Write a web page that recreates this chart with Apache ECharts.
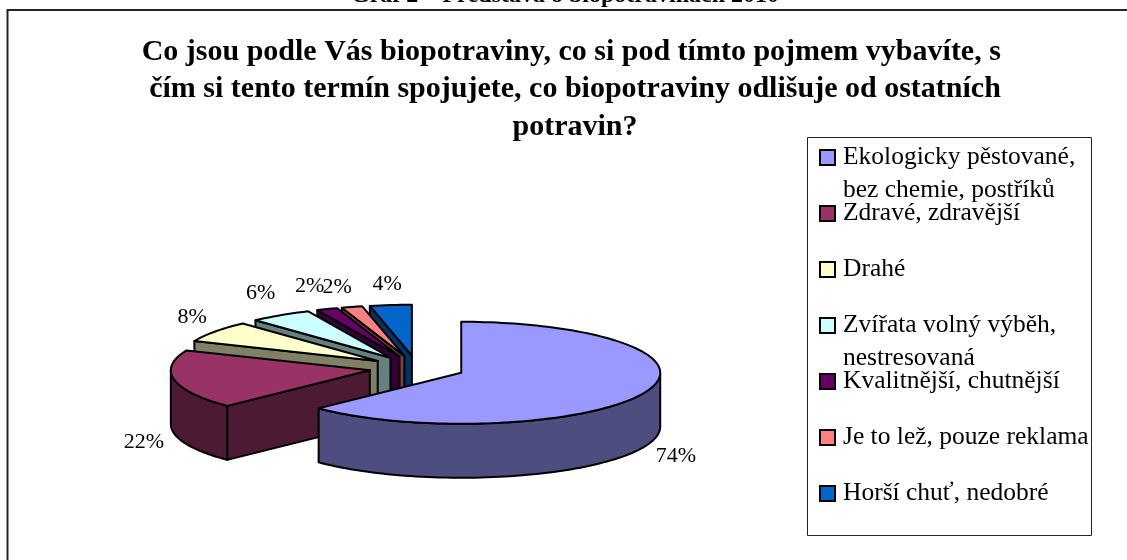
<!DOCTYPE html>
<html>
<head>
<meta charset="utf-8">
<style>
  html, body { margin: 0; padding: 0; background: #fff; }
  #chart { width: 1127px; height: 560px; }
</style>
<script src="https://cdn.jsdelivr.net/npm/echarts@6/dist/echarts.min.js"></script>
</head>
<body>
<div id="chart"></div>
<script>
const categories = [
  'Ekologicky pěstované,\nbez chemie, postříků',
  'Zdravé, zdravější',
  'Drahé',
  'Zvířata volný výběh,\nnestresovaná',
  'Kvalitnější, chutnější',
  'Je to lež, pouze reklama',
  'Horší chuť, nedobré'
];
const values = [74, 22, 8, 6, 2, 2, 4];
const colors = ['#9999FF', '#993366', '#FFFFCC', '#CCFFFF', '#660066', '#FF8080', '#0066CC'];

const titleText = 'Co jsou podle Vás biopotraviny, co si pod tímto pojmem vybavíte, s \nčím si tento termín spojujete, co biopotraviny odlišuje od ostatních\npotravin?';
const captionText = 'Graf 2 – Představa o biopotravinách 2010';

// pie geometry, the tilted 3D look is projected by hand
const cx = 417, cy = 368, rx = 199, ry = 51, depth = 54, explode = 48;
const serif = '"Liberation Serif", "Times New Roman", serif';
// small label shifts so the percents sit where Excel put them
const labelNudge = [[0, 2], [3, 0], [5, -1], [-1, -2], [-5, 0], [-6, 3], [0, 3]];

const total = values.reduce((a, b) => a + b, 0);
const angles = [];
let acc = 0;
values.forEach(v => {
  const start = acc / total * 2 * Math.PI;
  acc += v;
  angles.push([start, acc / total * 2 * Math.PI]);
});

function darken(hex) {
  const n = parseInt(hex.slice(1), 16);
  const c = [n >> 16, (n >> 8) & 255, n & 255].map(x => Math.round(x / 2));
  return `rgb(${c[0]},${c[1]},${c[2]})`;
}

// angle is clockwise from 12 o'clock
function rim(ax, ay, a) {
  return [ax + rx * Math.sin(a), ay - ry * Math.cos(a)];
}

function arcPoints(ax, ay, a0, a1, dy) {
  const pts = [];
  const steps = Math.max(2, Math.ceil((a1 - a0) / 0.03));
  for (let i = 0; i <= steps; i++) {
    const p = rim(ax, ay, a0 + (a1 - a0) * i / steps);
    pts.push([p[0], p[1] + dy]);
  }
  return pts;
}

function renderSlice(idx) {
  return function () {
    const a0 = angles[idx][0], a1 = angles[idx][1];
    const mid = (a0 + a1) / 2;
    const ax = cx + explode * Math.sin(mid);
    const ay = cy - explode * (ry / rx) * Math.cos(mid);
    const line = { stroke: '#000', lineWidth: 2, lineJoin: 'round' };
    const side = Object.assign({ fill: darken(colors[idx]) }, line);
    const children = [];

    // radial wall on the start edge, faces the viewer on the left half
    if (a0 >= Math.PI) {
      const p = rim(ax, ay, a0);
      children.push({
        type: 'polygon',
        shape: { points: [[ax, ay], p, [p[0], p[1] + depth], [ax, ay + depth]] },
        style: side
      });
    }
    // outer wall, front half of the rim only
    const w0 = Math.max(a0, Math.PI / 2), w1 = Math.min(a1, 3 * Math.PI / 2);
    if (w1 > w0) {
      const topArc = arcPoints(ax, ay, w0, w1, 0);
      const botArc = arcPoints(ax, ay, w0, w1, depth).reverse();
      children.push({
        type: 'polygon',
        shape: { points: topArc.concat(botArc) },
        style: side
      });
    }
    // top face
    children.push({
      type: 'polygon',
      shape: { points: [[ax, ay]].concat(arcPoints(ax, ay, a0, a1, 0)) },
      style: Object.assign({ fill: colors[idx] }, line)
    });
    // percent label
    const lp = rim(ax, ay, mid);
    const front = Math.cos(mid) < 0;
    children.push({
      type: 'text',
      style: {
        x: lp[0] + 34 * Math.sin(mid) + labelNudge[idx][0],
        y: lp[1] + (front ? depth + 8 : -24 * Math.cos(mid)) + labelNudge[idx][1],
        text: values[idx] + '%',
        fill: '#000',
        font: '22px ' + serif,
        align: 'center',
        verticalAlign: 'middle'
      }
    });
    return { type: 'group', children: children };
  };
}

const series = categories.map((name, i) => ({
  type: 'custom',
  name: name,
  coordinateSystem: 'none',
  silent: true,
  z: 2 + categories.length - i,
  itemStyle: { color: colors[i] },
  data: [values[i]],
  renderItem: renderSlice(i)
}));

const chart = echarts.init(document.getElementById('chart'), null, { renderer: 'canvas' });
chart.setOption({
  animation: false,
  backgroundColor: '#fff',
  title: [{
    text: captionText,
    left: 560,
    top: -21,
    textAlign: 'center',
    textStyle: { fontFamily: serif, fontSize: 24, fontWeight: 'bold', color: '#000' }
  }, {
    text: titleText,
    left: 570,
    top: 28,
    textAlign: 'center',
    textStyle: { fontFamily: serif, fontSize: 30, fontWeight: 'bold', color: '#000', lineHeight: 37.5 }
  }],
  legend: {
    orient: 'vertical',
    left: 819,
    top: 108,
    height: 450,
    padding: 0,
    icon: 'rect',
    itemWidth: 15,
    itemHeight: 15,
    itemGap: -43,
    data: categories,
    selectedMode: false,
    itemStyle: { borderColor: '#000', borderWidth: 2 },
    // three lines per entry so the marker sits on the first text line
    formatter: name => {
      const parts = name.split('\n');
      return ' \n' + parts[0] + '\n' + (parts[1] || ' ');
    },
    textStyle: {
      fontFamily: serif,
      fontSize: 25.5,
      color: '#000',
      lineHeight: 33,
      padding: [0, 0, 0, 3]
    }
  },
  graphic: [{
    // chart frame is cut off by the screenshot on the right and at the bottom
    type: 'polyline',
    z: -1,
    shape: { points: [[7.5, 560], [7.5, 10], [1127, 10]] },
    style: { fill: null, stroke: '#222', lineWidth: 2 }
  }, {
    type: 'rect',
    z: 0,
    shape: { x: 807.5, y: 137.5, width: 284, height: 398 },
    style: { fill: '#fff', stroke: '#222', lineWidth: 1 }
  }],
  series: series
});
</script>
</body>
</html>
